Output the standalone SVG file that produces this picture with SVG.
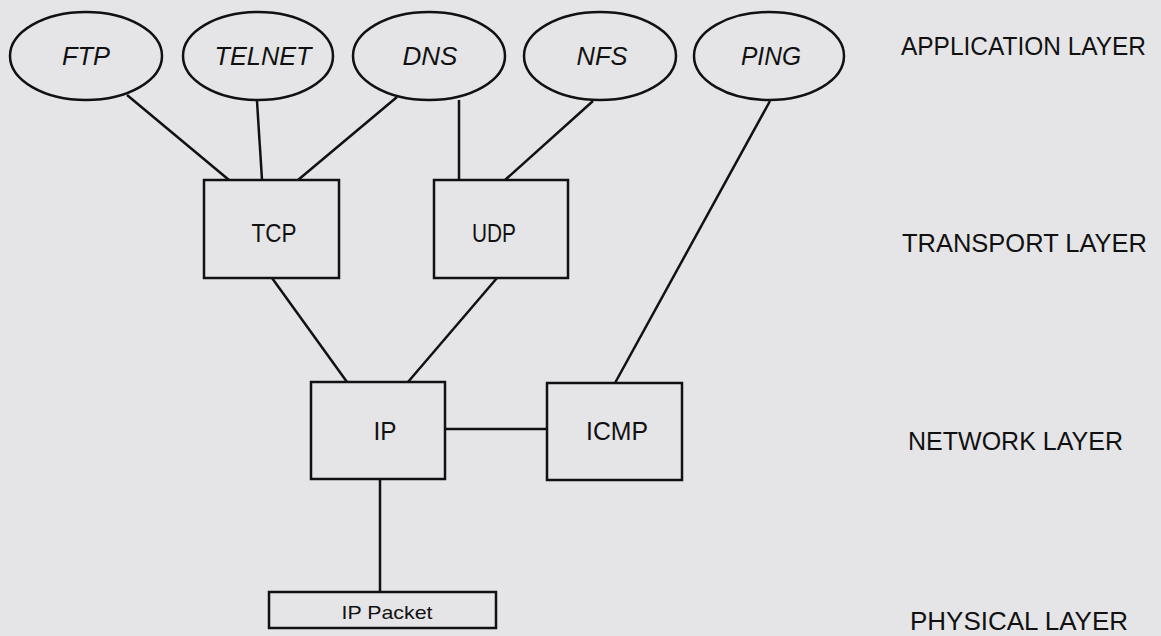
<svg xmlns="http://www.w3.org/2000/svg" width="1161" height="636" viewBox="0 0 1161 636">
<style>
.bg{fill:#e5e5e7}
.shape{fill:none;stroke:#111;stroke-width:2.5}
.conn line{stroke:#111;stroke-width:2.5}
.ell{font-family:"Liberation Sans",Arial,sans-serif;font-style:italic;font-size:25px;fill:#111;text-anchor:middle}
.box{font-family:"Liberation Sans",Arial,sans-serif;font-size:25px;fill:#111;text-anchor:middle}
.pkt{font-family:"Liberation Sans",Arial,sans-serif;font-size:19px;fill:#111;text-anchor:middle}
.layer{font-family:"Liberation Sans",Arial,sans-serif;font-size:26px;fill:#111}
</style>
<rect class="bg" x="0" y="0" width="1161" height="636"/>
<g id="connectors" class="conn">
<line x1="127" y1="95" x2="229" y2="180"/>
<line x1="257" y1="101" x2="262" y2="180"/>
<line x1="397" y1="97" x2="298" y2="180"/>
<line x1="459" y1="100" x2="459" y2="180"/>
<line x1="593" y1="101" x2="505" y2="180"/>
<line x1="770" y1="101" x2="615" y2="383"/>
<line x1="272" y1="278" x2="347" y2="382"/>
<line x1="497" y1="278" x2="408" y2="382"/>
<line x1="445" y1="429" x2="547" y2="429"/>
<line x1="380" y1="479" x2="380" y2="592"/>
</g>
<g id="ftp"><ellipse class="shape" cx="86" cy="56" rx="76" ry="44"/><text class="ell" x="86" y="65" textLength="48" lengthAdjust="spacingAndGlyphs">FTP</text></g>
<g id="telnet"><ellipse class="shape" cx="258" cy="56" rx="75" ry="44"/><text class="ell" x="263" y="65" textLength="97" lengthAdjust="spacingAndGlyphs">TELNET</text></g>
<g id="dns"><ellipse class="shape" cx="429" cy="56" rx="76" ry="44"/><text class="ell" x="430" y="65" textLength="55" lengthAdjust="spacingAndGlyphs">DNS</text></g>
<g id="nfs"><ellipse class="shape" cx="600" cy="56" rx="76" ry="44"/><text class="ell" x="602" y="65" textLength="51" lengthAdjust="spacingAndGlyphs">NFS</text></g>
<g id="ping"><ellipse class="shape" cx="769" cy="56" rx="75" ry="44"/><text class="ell" x="771" y="65" textLength="60" lengthAdjust="spacingAndGlyphs">PING</text></g>
<g id="tcp"><rect class="shape" x="204" y="180" width="135" height="98"/><text class="box" x="274" y="242" textLength="45" lengthAdjust="spacingAndGlyphs">TCP</text></g>
<g id="udp"><rect class="shape" x="434" y="180" width="134" height="98"/><text class="box" x="494" y="242" textLength="44" lengthAdjust="spacingAndGlyphs">UDP</text></g>
<g id="ip"><rect class="shape" x="311" y="382" width="134" height="97"/><text class="box" x="385" y="440" textLength="23" lengthAdjust="spacingAndGlyphs">IP</text></g>
<g id="icmp"><rect class="shape" x="547" y="383" width="135" height="97"/><text class="box" x="617" y="440" textLength="62" lengthAdjust="spacingAndGlyphs">ICMP</text></g>
<g id="ippacket"><rect class="shape" x="269" y="592" width="227" height="36"/><text class="pkt" x="387" y="619" textLength="91" lengthAdjust="spacingAndGlyphs">IP Packet</text></g>
<g id="labels">
<text class="layer" x="901" y="55" textLength="245" lengthAdjust="spacingAndGlyphs">APPLICATION LAYER</text>
<text class="layer" x="902" y="252" textLength="245" lengthAdjust="spacingAndGlyphs">TRANSPORT LAYER</text>
<text class="layer" x="908" y="450" textLength="215" lengthAdjust="spacingAndGlyphs">NETWORK LAYER</text>
<text class="layer" x="910" y="630" textLength="218" lengthAdjust="spacingAndGlyphs">PHYSICAL LAYER</text>
</g>
</svg>
